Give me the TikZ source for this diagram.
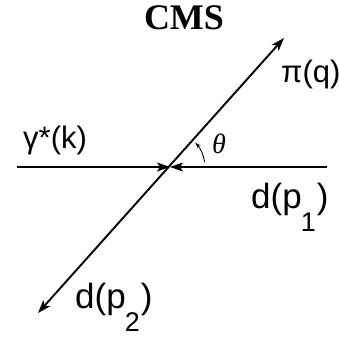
\documentclass[tikz,border=0pt]{standalone}
\usepackage{fontspec}
\setmainfont{Liberation Sans}
\newfontfamily\cmsfont{Liberation Serif}
\usetikzlibrary{arrows.meta}
\tikzset{
  axis/.style={line width=1.9pt, draw=black},
  bigtip/.style={-{Stealth[length=13pt,width=9pt,inset=3pt]}},
  bothtip/.style={{Stealth[length=13pt,width=9pt,inset=3pt]}-{Stealth[length=13pt,width=9pt,inset=3pt]}},
  smalltip/.style={-{Stealth[length=6pt,width=4pt]}},
  lab/.style={inner sep=0pt, anchor=base west, font=\fontsize{31}{32}\selectfont},
  dlab/.style={inner sep=0pt, anchor=base west, font=\fontsize{35}{36}\selectfont}
}
\newcommand{\subl}[1]{\kern-1pt\raisebox{-23pt}{\fontsize{27}{28}\selectfont #1}\kern1pt}
\begin{document}
\begin{tikzpicture}[x=1pt,y=-1pt]
\useasboundingbox (0,0) rectangle (339,343);
\coordinate (O) at (170,167);
\coordinate (L) at (17,167);
\coordinate (R) at (327,167);
\coordinate (P) at (284,38);
\coordinate (D) at (38,313);
\draw[axis,bigtip] (L) -- (O);
\draw[axis,bigtip] (R) -- (O);
\draw[axis,bothtip] (D) -- (P);
\draw[line width=0.9pt,smalltip] (O) ++(-8:35) arc[start angle=-8,end angle=-44,radius=35];
\node[inner sep=0pt, anchor=base, font=\cmsfont\bfseries\fontsize{36}{38}\selectfont] (cms) at (184,29) {CMS};
\node[lab] (pi) at (281,82) {π(q)};
\node[lab] (gam) at (23,148) {γ*(k)};
\node[dlab] (d1) at (251,208) {d(p\subl{1})};
\node[dlab] (d2) at (75,308) {d(p\subl{2})};
\node[inner sep=0pt, anchor=base, font=\cmsfont\itshape\fontsize{28}{30}\selectfont] (th) at (219,153) {θ};
\end{tikzpicture}
\end{document}
